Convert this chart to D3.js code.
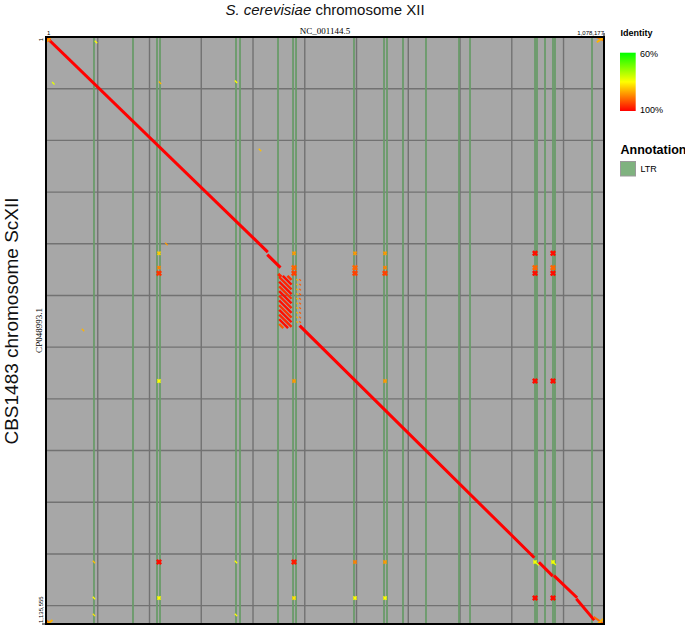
<!DOCTYPE html>
<html><head><meta charset="utf-8">
<script src="https://cdn.jsdelivr.net/npm/d3@7"></script>
<style>body{margin:0;background:#fff} svg{display:block}</style>
</head><body><svg id="c" width="685" height="626"></svg>
<script>
// ---------------- data ----------------
const titleItalic = "S. cerevisiae";
const titleRest = " chromosome XII";
const yTitle = "CBS1483 chromosome ScXII";
const refName = "NC_001144.5";
const qryName = "CP048993.1";
const refLength = 1078177;
const qryLength = 1135555;
const gridStep = 100000;
const identityStops = [60, 80, 100];
const identityLabels = ["60%", "100%"];
const annotationLabel = "LTR";

// LTR annotation positions on the reference (bp)
const ltrPositions = [92700, 168100, 214500, 220300, 367100, 374900, 448300, 477300, 483100,
  595100, 653100, 658900, 689800, 734200, 798000, 819300, 944900, 948700, 964200, 979600,
  983500, 1055000];

// syntenic alignments: [refStart, refEnd, qryStart, qryEnd, identity%]
const mainAlignments = [
  [0, 426500, 0, 414000, 99.9],
  [429600, 451000, 423000, 444000, 99.8],
  [450800, 452600, 460400, 462100, 97],
  [492100, 941500, 560400, 1005400, 99.9],
  [954500, 977100, 1018100, 1040800, 99.8],
  [983500, 1024100, 1044000, 1082700, 99.8],
  [1026600, 1057500, 1089100, 1125900, 99.8]
];

// rDNA array block: reference span, query span, diagonal offsets (qry - ref) of the repeat hits
const rdnaRef = [452100, 472800];
const rdnaQry = [463700, 561600];
const rdnaOffsets = [-4500, 4600, 13700, 22800, 31900, 41000, 50100, 59200, 68300, 77400, 86500, 95600, 104700];
const rdnaIdentity = [96, 99, 97, 99, 96, 99, 97, 99, 96, 99, 97, 99, 93];

// partial repeat hits beside the rDNA block
const rdnaSideRef = [485500, 491000];
const rdnaSideQry = [470000, 479000, 488500, 497500, 506500, 515500, 524500, 533500, 542500, 551500];
const rdnaSideIdentity = [86, 93];

// transposon (LTR) hits: columns on reference, rows on query, identity matrix [col][row]
const hitCols = [218300, 479200, 597000, 655000, 944900, 979600];
const hitRows = [418400, 446300, 457100, 665500, 1015600, 1085300];
const hitIdentity = [
  [84, 90, 96, 80, 99, 80],
  [88, 92, 95, 88, 98, 82],
  [88, 92, 95, null, 90, 80],
  [88, 90, 95, 88, 88, 80],
  [99, 92, 99, 99, 79, 99],
  [99, 92, 99, 99, 79, 99]
];

// small scattered hits: [ref, qry, identity]
const smallHits = [
  [232600, 400400, 88], [96600, 9700, 80], [14100, 89600, 78], [220300, 88400, 86],
  [367100, 86500, 80], [92700, 1015600, 85], [92700, 1085300, 80], [367100, 1015600, 80],
  [92700, 1118000, 82], [367100, 1118000, 80], [413500, 218600, 85], [71500, 566800, 86],
  [950000, 1020000, 78], [983000, 1019000, 78]
];

// telomeric repeat hits at the corners: [refStart, refEnd, qryStart, qryEnd, identity]
const cornerHits = [
  [0, 7000, 0, 7000, 92], [2000, 9000, 8000, 1000, 88],
  [1064000, 1078177, 0, 7000, 90], [1066000, 1076000, 9000, 2000, 86],
  [0, 8000, 1127500, 1135555, 90], [3000, 11000, 1135555, 1129000, 86],
  [1060000, 1078177, 1123000, 1135555, 92], [1066000, 1075000, 1135555, 1127000, 86]
];

// ---------------- drawing ----------------
const svg = d3.select("#c");
const X0 = 46, X1 = 604, Y0 = 37, Y1 = 624;
const x = d3.scaleLinear().domain([0, refLength]).range([X0, X1]);
const y = d3.scaleLinear().domain([0, qryLength]).range([Y0, Y1]);
const color = d3.scaleLinear().domain(identityStops).range(["#00ff00", "#ffff00", "#ff0000"]);
const sans = "'Liberation Sans', Arial, sans-serif";
const serif = "'Liberation Serif', 'Times New Roman', serif";

const defs = svg.append("defs");
defs.append("clipPath").attr("id", "clip").append("rect")
  .attr("x", X0).attr("y", Y0).attr("width", X1 - X0).attr("height", Y1 - Y0);
const grad = defs.append("linearGradient").attr("id", "idgrad")
  .attr("x1", 0).attr("y1", 0).attr("x2", 0).attr("y2", 1);
identityStops.forEach((v, i) => grad.append("stop")
  .attr("offset", (i / (identityStops.length - 1) * 100) + "%").attr("stop-color", color(v)));

// background
svg.append("rect").attr("x", X0).attr("y", Y0).attr("width", X1 - X0).attr("height", Y1 - Y0)
  .attr("fill", "#a7a7a7");

const plot = svg.append("g").attr("clip-path", "url(#clip)");

// grid
const xg = d3.range(gridStep, refLength, gridStep);
const yg = d3.range(gridStep, qryLength, gridStep);
plot.selectAll(".gx").data(xg).join("line")
  .attr("x1", d => x(d)).attr("x2", d => x(d)).attr("y1", Y0).attr("y2", Y1)
  .attr("stroke", "#727272").attr("stroke-width", 1.4);
plot.selectAll(".gy").data(yg).join("line")
  .attr("y1", d => y(d)).attr("y2", d => y(d)).attr("x1", X0).attr("x2", X1)
  .attr("stroke", "#727272").attr("stroke-width", 1.4);

// LTR annotations
plot.selectAll(".ltr").data(ltrPositions).join("line")
  .attr("x1", d => x(d)).attr("x2", d => x(d)).attr("y1", Y0).attr("y2", Y1)
  .attr("stroke", "#6a9b6a").attr("stroke-width", 1.8);

function seg(g, r1, r2, q1, q2, id, w) {
  g.append("line")
    .attr("x1", x(r1)).attr("y1", y(q1)).attr("x2", x(r2)).attr("y2", y(q2))
    .attr("stroke", color(id)).attr("stroke-width", w).attr("stroke-linecap", "square");
}

const al = plot.append("g");
// small scattered hits
smallHits.forEach(([r, q, id]) => seg(al, r - 1500, r + 1500, q - 1500, q + 1500, id, 1.3));

// LTR hits
hitCols.forEach((r, i) => hitRows.forEach((q, j) => {
  const id = hitIdentity[i][j];
  if (id == null) return;
  const h = id > 90 ? 2600 : 2000;
  const w = id > 90 ? 2.4 : 1.6;
  seg(al, r - h, r + h, q - h, q + h, id, w);
  seg(al, r - h, r + h, q + h, q - h, id, w);
}));

// main alignments
mainAlignments.forEach(([r1, r2, q1, q2, id]) => seg(al, r1, r2, q1, q2, id, 3));

// rDNA block
rdnaOffsets.forEach((c, i) => {
  const lo = Math.max(rdnaRef[0], rdnaQry[0] - c);
  const hi = Math.min(rdnaRef[1], rdnaQry[1] - c);
  if (lo < hi) seg(al, lo, hi, lo + c, hi + c, rdnaIdentity[i], 2.4);
});
rdnaSideQry.forEach(q => rdnaSideRef.forEach((r, k) =>
  seg(al, r - 700, r + 700, q - 700, q + 700, rdnaSideIdentity[k], 1.2)));

// corners
cornerHits.forEach(([r1, r2, q1, q2, id]) => seg(al, r1, r2, q1, q2, id, 2));

// frame
svg.append("rect").attr("x", X0).attr("y", Y0).attr("width", X1 - X0).attr("height", Y1 - Y0)
  .attr("fill", "none").attr("stroke", "#000").attr("stroke-width", 2);

// axis end labels
svg.append("text").attr("x", X0 + 1).attr("y", Y0 - 2).attr("font-family", sans)
  .attr("font-size", 6).text("1");
svg.append("text").attr("x", X1).attr("y", Y0 - 2).attr("text-anchor", "end")
  .attr("font-family", sans).attr("font-size", 6).text(d3.format(",")(refLength));
svg.append("text").attr("transform", `translate(${X0 - 3},${Y0 + 1}) rotate(-90)`)
  .attr("text-anchor", "end").attr("font-family", sans).attr("font-size", 6).text("1");
svg.append("text").attr("transform", `translate(${X0 - 3},${Y1 - 1}) rotate(-90)`)
  .attr("text-anchor", "start").attr("font-family", sans).attr("font-size", 6)
  .text(d3.format(",")(qryLength));
svg.append("line").attr("x1", X0 - 4).attr("x2", X0).attr("y1", Y1).attr("y2", Y1)
  .attr("stroke", "#000").attr("stroke-width", 1);
svg.append("line").attr("x1", X1).attr("x2", X1).attr("y1", Y0 - 4).attr("y2", Y0)
  .attr("stroke", "#000").attr("stroke-width", 1);

// sequence names
svg.append("text").attr("x", (X0 + X1) / 2).attr("y", 34).attr("text-anchor", "middle")
  .attr("font-family", serif).attr("font-size", 9).text(refName);
svg.append("text").attr("transform", `translate(41.5,${(Y0 + Y1) / 2}) rotate(-90)`)
  .attr("text-anchor", "middle").attr("font-family", serif).attr("font-size", 9).text(qryName);

// titles
const t = svg.append("text").attr("x", 325).attr("y", 15).attr("text-anchor", "middle")
  .attr("font-family", sans).attr("font-size", 15).attr("fill", "#111");
t.append("tspan").attr("font-style", "italic").text(titleItalic);
t.append("tspan").text(titleRest);
svg.append("text").attr("transform", `translate(17.5,321) rotate(-90)`)
  .attr("text-anchor", "middle").attr("font-family", sans).attr("font-size", 19)
  .attr("fill", "#111").text(yTitle);

// legend
const L = svg.append("g");
L.append("text").attr("x", 620.5).attr("y", 36).attr("font-family", sans).attr("font-size", 9)
  .attr("font-weight", "bold").text("Identity");
L.append("rect").attr("x", 620).attr("y", 52.7).attr("width", 15.7).attr("height", 58.3)
  .attr("fill", "url(#idgrad)");
L.append("text").attr("x", 640).attr("y", 56.5).attr("font-family", sans).attr("font-size", 9)
  .text(identityLabels[0]);
L.append("text").attr("x", 640).attr("y", 113).attr("font-family", sans).attr("font-size", 9)
  .text(identityLabels[1]);
L.append("text").attr("x", 620.5).attr("y", 154).attr("font-family", sans).attr("font-size", 12.5)
  .attr("font-weight", "bold").text("Annotation");
L.append("rect").attr("x", 620.5).attr("y", 161.5).attr("width", 15).attr("height", 14.5)
  .attr("fill", "#7fb27f").attr("stroke", "#9a9a9a").attr("stroke-width", 1);
L.append("text").attr("x", 640.5).attr("y", 172).attr("font-family", sans).attr("font-size", 9)
  .text(annotationLabel);
</script>
</body></html>
